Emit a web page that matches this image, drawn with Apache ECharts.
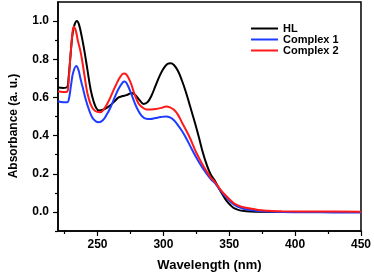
<!DOCTYPE html>
<html>
<head>
<meta charset="utf-8">
<script src="https://cdn.jsdelivr.net/npm/echarts@6/dist/echarts.min.js"></script>
<style>
html,body{margin:0;padding:0;background:#fff;}
#chart{width:374px;height:277px;}
</style>
</head>
<body>
<div id="chart"></div>
<script>
var seriesNames = ['HL', 'Complex 1', 'Complex 2'];

var wlHL  = [220,224,227,228,229.5,231,232.5,234.4,236,238,240,242,244.8,247,249,251,254,257,260,263,266,269,272,276,279,282,285,288,291,294,297,300,303,305.5,308,311,314,317,320,324,327,330,333,336,339,342,345,348,351,354,358,363,370,400,450];
var absHL = [0.652,0.650,0.655,0.70,0.82,0.93,0.98,1.0,0.98,0.92,0.845,0.76,0.64,0.58,0.545,0.532,0.535,0.545,0.56,0.58,0.60,0.607,0.612,0.623,0.61,0.585,0.566,0.575,0.61,0.66,0.71,0.75,0.775,0.779,0.77,0.74,0.69,0.63,0.56,0.466,0.39,0.31,0.245,0.195,0.165,0.125,0.09,0.058,0.035,0.018,0.008,0.003,0.001,0.0,0.0];

var wlC1  = [220,224,227,228.5,230,231.5,233.8,235.5,237,238.6,241,243.5,246,249,251,254,257,260,263,266,269,270.5,272,275,278,281,284,287,290,294,298,302,305,308,311,314,317,320,325,330,336,339,343,347.5,353.6,360,366,375,390,420,450];
var absC1 = [0.58,0.575,0.575,0.60,0.67,0.73,0.765,0.745,0.70,0.657,0.59,0.536,0.495,0.473,0.47,0.48,0.51,0.55,0.60,0.645,0.678,0.683,0.675,0.63,0.575,0.53,0.50,0.488,0.487,0.492,0.497,0.50,0.495,0.48,0.455,0.425,0.39,0.35,0.285,0.228,0.172,0.152,0.115,0.078,0.038,0.018,0.01,0.004,0.0,-0.002,-0.003];

var wlC2  = [220,224,227,228,229.5,231,232,233.5,235,237.4,240,242.3,245,248,252,255,258,261,264,267,270,272,275,278,281,284,287,291,295,299,302,305,308,311,314,320,325,330,336,339,343,347.5,353.6,360,366,372,380,390,420,450];
var absC2 = [0.632,0.628,0.63,0.68,0.82,0.94,0.97,0.95,0.90,0.83,0.72,0.623,0.56,0.53,0.522,0.54,0.575,0.62,0.665,0.705,0.725,0.72,0.68,0.62,0.57,0.548,0.537,0.537,0.54,0.546,0.552,0.548,0.535,0.51,0.47,0.39,0.31,0.245,0.18,0.158,0.12,0.085,0.045,0.026,0.018,0.01,0.006,0.003,0.002,0.001];

var xMajor = [250,300,350,400,450];
var xMinor = [225,275,325,375,425];
var yMajor = [0.0,0.2,0.4,0.6,0.8,1.0];
var yMinor = [-0.1,0.1,0.3,0.5,0.7,0.9];

function zip(a,b){var r=[];for(var i=0;i<a.length;i++)r.push([a[i],b[i]]);return r;}

var FONT = 'Liberation Sans, Arial, sans-serif';
var chart = echarts.init(document.getElementById('chart'), null, {renderer:'canvas'});
var grid = {left:53, right:12, top:2, bottom:45, show:true, borderColor:'#000', borderWidth:1.5, backgroundColor:'transparent'};

var xBase = {type:'value', min:220, max:450, gridIndex:0, splitLine:{show:false}};
var yBase = {type:'value', min:-0.1, max:1.1, gridIndex:0, splitLine:{show:false}};

chart.setOption({
  animation:false,
  backgroundColor:'#fff',
  grid:grid,
  legend:{
    orient:'vertical', left:246, top:18, itemWidth:27, itemHeight:14, itemGap:0,
    icon:'path://M0,6 L27,6 L27,8 L0,8 Z',
    data:seriesNames,
    textStyle:{fontFamily:FONT, fontSize:11, fontWeight:'bold', color:'#000'}
  },
  xAxis:[
    Object.assign({}, xBase, {
      position:'bottom',
      name:'Wavelength (nm)', nameLocation:'middle', nameGap:28,
      nameTextStyle:{fontFamily:FONT, fontSize:13, fontWeight:'bold', color:'#000'},
      axisLine:{show:true, onZero:false, lineStyle:{color:'#000', width:1.5}},
      axisTick:{show:true, inside:false, length:5, customValues:xMajor, lineStyle:{color:'#000', width:1.2}},
      axisLabel:{show:true, margin:8, customValues:xMajor, fontFamily:FONT, fontSize:12, fontWeight:'bold', color:'#000'}
    }),
    Object.assign({}, xBase, {
      position:'bottom',
      axisLine:{show:false, onZero:false},
      axisTick:{show:true, inside:false, length:3, customValues:xMinor, lineStyle:{color:'#000', width:1.2}},
      axisLabel:{show:false}
    })
  ],
  yAxis:[
    Object.assign({}, yBase, {
      position:'left',
      name:'Absorbance (a. u.)', nameLocation:'middle', nameGap:38,
      nameTextStyle:{fontFamily:FONT, fontSize:12, fontWeight:'bold', color:'#000', padding:[0,19,0,0]},
      axisLine:{show:true, onZero:false, lineStyle:{color:'#000', width:1.5}},
      axisTick:{show:true, inside:false, length:5, customValues:yMajor, lineStyle:{color:'#000', width:1.2}},
      axisLabel:{show:true, margin:9, customValues:yMajor, formatter:function(v){return v.toFixed(1);}, fontFamily:FONT, fontSize:12, fontWeight:'bold', color:'#000'}
    }),
    Object.assign({}, yBase, {
      position:'left',
      axisLine:{show:false, onZero:false},
      axisTick:{show:true, inside:false, length:3, customValues:yMinor, lineStyle:{color:'#000', width:1.2}},
      axisLabel:{show:false}
    })
  ],
  series:[
    {name:seriesNames[0], type:'line', data:zip(wlHL,absHL), smooth:0.4, symbol:'none', showSymbol:false, lineStyle:{color:'#000', width:2}, itemStyle:{color:'#000'}, z:3},
    {name:seriesNames[1], type:'line', data:zip(wlC1,absC1), smooth:0.4, symbol:'none', showSymbol:false, lineStyle:{color:'#1e3cff', width:2}, itemStyle:{color:'#1e3cff'}, z:4},
    {name:seriesNames[2], type:'line', data:zip(wlC2,absC2), smooth:0.4, symbol:'none', showSymbol:false, lineStyle:{color:'#ff1a1a', width:2}, itemStyle:{color:'#ff1a1a'}, z:5}
  ]
});
</script>
</body>
</html>
